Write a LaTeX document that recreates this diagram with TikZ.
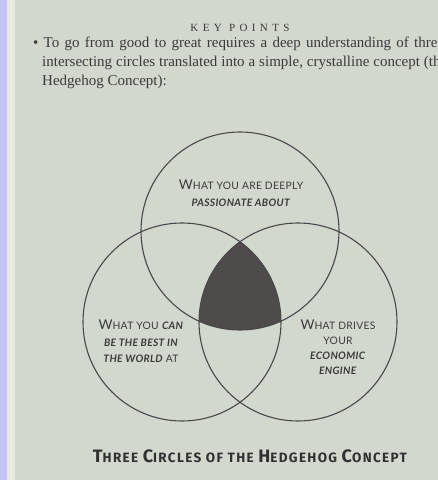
\documentclass[tikz,border=0pt]{standalone}
\usepackage{fontspec}
\setmainfont{Liberation Serif}
\newfontfamily\labelfont{Lato}[LetterSpace=3]
\newfontfamily\capfont{Fira Sans}[LetterSpace=10]
\definecolor{page}{RGB}{211,216,207}
\definecolor{lav}{RGB}{196,196,250}
\definecolor{cream}{RGB}{233,235,219}
\definecolor{ink}{RGB}{58,58,58}
\definecolor{ringc}{RGB}{72,72,72}
\definecolor{darkfill}{RGB}{78,76,75}
\newcommand\labA{\fontsize{13.5pt}{13.5pt}\selectfont}
\newcommand\labB{\fontsize{10.3pt}{16.5pt}\selectfont}
\newcommand\capA{\fontsize{18pt}{18pt}\selectfont}
\newcommand\capB{\fontsize{13.5pt}{13.5pt}\selectfont}
\newcommand\bi[1]{\textbf{\textit{#1}}}
\tikzset{
  ring/.style={draw=ringc, line width=1.1pt},
  bodyline/.style={anchor=base west, inner sep=0pt, text=ink, font=\fontsize{15pt}{19pt}\selectfont},
  lab/.style={inner sep=0pt, text=ink, align=center, font=\labelfont\labB},
}
\begin{document}
\begin{tikzpicture}[x=1pt,y=-1pt]
\useasboundingbox (0,0) rectangle (438,480);
\clip (0,0) rectangle (438,480);
\fill[page] (0,0) rectangle (438,480);
\fill[lav] (0,0) rectangle (7,480);
\fill[cream] (7,0) rectangle (15,480);

\node[anchor=base, inner sep=0pt, text=ink, font=\fontsize{11pt}{11pt}\selectfont\addfontfeatures{LetterSpace=40}] (kp) at (240,31) {KEY POINTS};

\node[bodyline] (l1) at (33,47) {\makebox[411pt][s]{\textbullet\ To go from good to great requires a deep understanding of three}};
\node[bodyline] (l2) at (42,66) {\makebox[405pt][s]{intersecting circles translated into a simple, crystalline concept (the}};
\node[bodyline] (l3) at (42,85) {Hedgehog Concept):};

\coordinate (ct) at (240,231);
\coordinate (cl) at (182,322);
\coordinate (cr) at (298,322);
\begin{scope}
  \clip (cl) circle[radius=99pt];
  \clip (cr) circle[radius=99pt];
  \fill[darkfill] (ct) circle[radius=99pt];
\end{scope}
\draw[ring] (ct) circle[radius=99pt];
\draw[ring] (cl) circle[radius=99pt];
\draw[ring] (cr) circle[radius=99pt];

\node[lab, anchor=north] (lt) at (241,180) {{\labA W}HAT YOU ARE DEEPLY\\\bi{PASSIONATE ABOUT}};
\node[lab, anchor=north] (ll) at (141,320) {{\labA W}HAT YOU \bi{CAN}\\\bi{BE THE BEST IN}\\\bi{THE WORLD} AT};
\node[lab, anchor=north, font=\labelfont\fontsize{10.3pt}{14.8pt}\selectfont] (lr) at (338,320) {{\labA W}HAT DRIVES\\YOUR\\\bi{ECONOMIC}\\\bi{ENGINE}};

\node[anchor=base, inner sep=0pt, text=ink!85!black, font=\capfont\bfseries\capB] (cap) at (250,462) {{\capA T}HREE {\capA C}IRCLES OF THE {\capA H}EDGEHOG {\capA C}ONCEPT};
\end{tikzpicture}
\end{document}
